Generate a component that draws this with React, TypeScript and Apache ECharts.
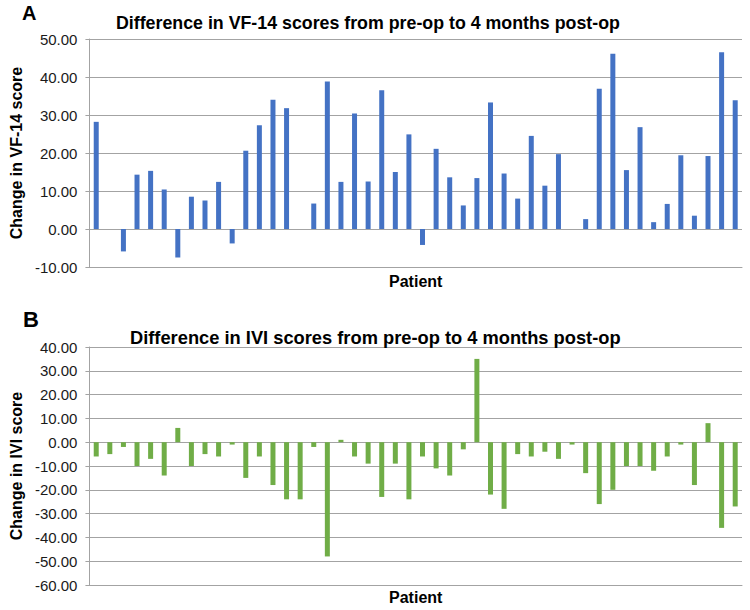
import React, { useEffect, useRef } from "react";
import * as echarts from "echarts";

const patients: string[] = [
  "1","2","3","4","5","6","7","8","9","10","11","12","13","14","15","16",
  "17","18","19","20","21","22","23","24","25","26","27","28","29","30","31","32",
  "33","34","35","36","37","38","39","40","41","42","43","44","45","46","47","48",
];

const vf14Change: number[] = [
  28.2, 0, -5.9, 14.3, 15.3, 10.4, -7.5, 8.5, 7.5, 12.4, -3.8, 20.6, 27.3, 34.0, 31.8, 0,
  6.7, 38.8, 12.4, 30.4, 12.5, 36.5, 15.0, 24.9, -4.2, 21.1, 13.6, 6.2, 13.4, 33.3, 14.6, 8.0,
  24.5, 11.4, 19.7, 0, 2.6, 36.9, 46.1, 15.5, 26.8, 1.8, 6.6, 19.4, 3.5, 19.2, 46.5, 33.9,
];

const iviChange: number[] = [
  -6, -5, -2, -10, -7, -14, 6, -10, -5, -6, -1, -15, -6, -18, -24, -24,
  -2, -48, 1, -6, -9, -23, -9, -24, -6, -11, -14, -3, 35, -22, -28, -5,
  -6, -4, -7, -1, -13, -26, -20, -10, -10, -12, -6, -1, -18, 8, -36, -27,
];

const vf14Axis = { min: -10, max: 50, interval: 10 };
const iviAxis = { min: -60, max: 40, interval: 10 };

const FONT = "'Liberation Sans', Arial, Helvetica, sans-serif";
const GRID_COLOR = "#a3a3a3";

export default function App() {
  const ref = useRef<HTMLDivElement>(null);

  useEffect(() => {
    if (!ref.current) return;
    const chart = echarts.init(ref.current, undefined, { renderer: "svg" });

    const yAxisCommon = {
      type: "value" as const,
      nameLocation: "middle" as const,
      nameGap: 62,
      nameTextStyle: { fontFamily: FONT, fontWeight: "bold" as const, fontSize: 16, color: "#000" },
      axisLine: { show: true, lineStyle: { color: GRID_COLOR, width: 1 } },
      axisTick: { show: true, length: 4, lineStyle: { color: GRID_COLOR } },
      axisLabel: {
        fontFamily: FONT,
        fontSize: 15,
        color: "#1a1a1a",
        margin: 12,
        formatter: (v: number) => v.toFixed(2),
      },
      splitLine: { show: true, lineStyle: { color: GRID_COLOR, width: 1 } },
    };

    const xAxisCommon = {
      type: "category" as const,
      data: patients,
      boundaryGap: true,
      nameLocation: "middle" as const,
      nameTextStyle: {
        fontFamily: FONT,
        fontWeight: "bold" as const,
        fontSize: 16,
        color: "#000",
        verticalAlign: "top" as const,
      },
      axisLine: { show: true, onZero: false, lineStyle: { color: GRID_COLOR, width: 1 } },
      axisTick: { show: false },
      axisLabel: { show: false },
      splitLine: { show: false },
    };

    chart.setOption({
      animation: false,
      backgroundColor: "#ffffff",
      title: [
        {
          text: "A",
          left: 22,
          top: 3,
          padding: 0,
          textStyle: { fontFamily: FONT, fontWeight: "bold", fontSize: 20, color: "#000" },
        },
        {
          text: "Difference in VF-14 scores from pre-op to 4 months post-op",
          left: 116,
          top: 14,
          padding: 0,
          textStyle: { fontFamily: FONT, fontWeight: "bold", fontSize: 17.8, color: "#000" },
        },
        {
          text: "B",
          left: 23,
          top: 308,
          padding: 0,
          textStyle: { fontFamily: FONT, fontWeight: "bold", fontSize: 22, color: "#000" },
        },
        {
          text: "Difference in IVI scores from pre-op to 4 months post-op",
          left: 130,
          top: 328,
          padding: 0,
          textStyle: { fontFamily: FONT, fontWeight: "bold", fontSize: 18.3, color: "#000" },
        },
      ],
      grid: [
        { left: 88, top: 39, width: 654, height: 228, containLabel: false },
        { left: 88, top: 347, width: 654, height: 238, containLabel: false },
      ],
      xAxis: [
        { ...xAxisCommon, gridIndex: 0, name: "Patient", nameGap: 6 },
        { ...xAxisCommon, gridIndex: 1, name: "Patient", nameGap: 4 },
      ],
      yAxis: [
        {
          ...yAxisCommon,
          gridIndex: 0,
          name: "Change in VF-14 score",
          min: vf14Axis.min,
          max: vf14Axis.max,
          interval: vf14Axis.interval,
        },
        {
          ...yAxisCommon,
          gridIndex: 1,
          name: "Change in IVI score",
          min: iviAxis.min,
          max: iviAxis.max,
          interval: iviAxis.interval,
        },
      ],
      series: [
        {
          type: "bar",
          name: "VF-14",
          xAxisIndex: 0,
          yAxisIndex: 0,
          data: vf14Change,
          barWidth: 5,
          itemStyle: { color: "#4472C4" },
        },
        {
          type: "bar",
          name: "IVI",
          xAxisIndex: 1,
          yAxisIndex: 1,
          data: iviChange,
          barWidth: 5,
          itemStyle: { color: "#70AD47" },
        },
      ],
    });

    return () => {
      chart.dispose();
    };
  }, []);

  return (
    <div
      ref={ref}
      style={{ position: "fixed", left: 0, top: 0, width: 750, height: 610, background: "#fff" }}
    />
  );
}
